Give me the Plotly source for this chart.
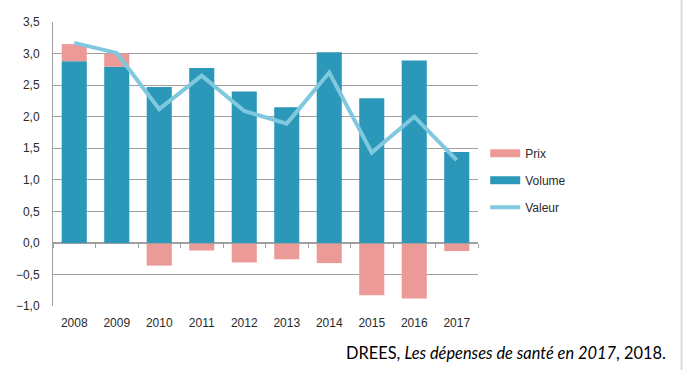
import plotly.graph_objects as go

years = ["2008", "2009", "2010", "2011", "2012", "2013", "2014", "2015", "2016", "2017"]
volume = [2.88, 2.79, 2.47, 2.77, 2.40, 2.15, 3.02, 2.29, 2.89, 1.44]
prix = [0.27, 0.21, -0.36, -0.12, -0.31, -0.26, -0.32, -0.83, -0.88, -0.13]
valeur = [3.17, 3.01, 2.12, 2.65, 2.09, 1.89, 2.70, 1.43, 2.00, 1.31]
y_ticks = [-1.0, -0.5, 0.0, 0.5, 1.0, 1.5, 2.0, 2.5, 3.0, 3.5]

C_VOL = "#2b97b9"
C_PRIX = "#ec9a97"
C_VAL = "#7fc8dd"
GRID = "#a0a0a0"
FONT = "Liberation Sans, Arial, sans-serif"

fig = go.Figure()
fig.add_trace(go.Bar(x=years, y=volume, name="Volume", marker=dict(color=C_VOL, line=dict(width=0)),
                     showlegend=False))
fig.add_trace(go.Bar(x=years, y=prix, name="Prix", marker=dict(color=C_PRIX, line=dict(width=0)),
                     showlegend=False))
fig.add_trace(go.Scatter(x=years, y=valeur, name="Valeur", mode="lines",
                         line=dict(color=C_VAL, width=4), showlegend=False))
# legend entries
for nm, col, w in [("Prix", C_PRIX, 8), ("Volume", C_VOL, 8), ("Valeur", C_VAL, 4)]:
    fig.add_trace(go.Scatter(x=[None], y=[None], mode="lines", name=nm,
                             line=dict(color=col, width=w), legendgroup=nm, showlegend=True))
# invisible trace for zero-line tick axis
fig.add_trace(go.Scatter(x=years, y=[None] * len(years), xaxis="x2", showlegend=False,
                         hoverinfo="skip", mode="lines"))

fig.update_layout(
    width=683, height=370,
    margin=dict(l=53, r=205, t=22, b=64),
    paper_bgcolor="white", plot_bgcolor="white",
    barmode="relative", bargap=0.41,
    separators=", ",
    font=dict(family=FONT, size=12, color="#2a2a2a"),
    xaxis=dict(type="category", showgrid=False, showline=False, ticks="",
               tickfont=dict(size=12, color="#2a2a2a"), ticklabelstandoff=8),
    xaxis2=dict(type="category", overlaying="x", matches="x", anchor="free",
                position=(0 - (-1.0)) / 4.5, side="bottom", showgrid=False,
                showline=True, linecolor=GRID, linewidth=1,
                ticks="outside", tickson="boundaries", ticklen=4, tickcolor=GRID,
                showticklabels=False),
    yaxis=dict(range=[-1.0, 3.5], tickvals=y_ticks, tickformat=".1f",
               showgrid=True, gridcolor=GRID, gridwidth=1,
               zeroline=False, showline=True, linecolor=GRID, linewidth=1,
               ticks="", tickfont=dict(size=12, color="#2a2a2a"), ticklabelstandoff=10),
    legend=dict(x=1.017, y=0.589, xanchor="left", yanchor="top",
                font=dict(size=12, color="#2a2a2a"), tracegroupgap=8,
                bgcolor="rgba(0,0,0,0)"),
    annotations=[dict(xref="paper", yref="paper", x=1.446, y=-0.162, xanchor="right",
                      yanchor="middle", showarrow=False,
                      text="DREES, <i>Les dépenses de santé en 2017</i>, 2018.",
                      font=dict(family="Lato, sans-serif", size=16.4, color="black"))],
    shapes=[dict(type="line", xref="paper", yref="paper", x0=1.479, x1=1.479,
                 y0=-0.23, y1=1.08, line=dict(color="#d9d9d9", width=2))],
)

fig.write_html("out.html", config={"displayModeBar": False},
               post_script="document.body.style.margin='0';document.body.style.padding='0';")
